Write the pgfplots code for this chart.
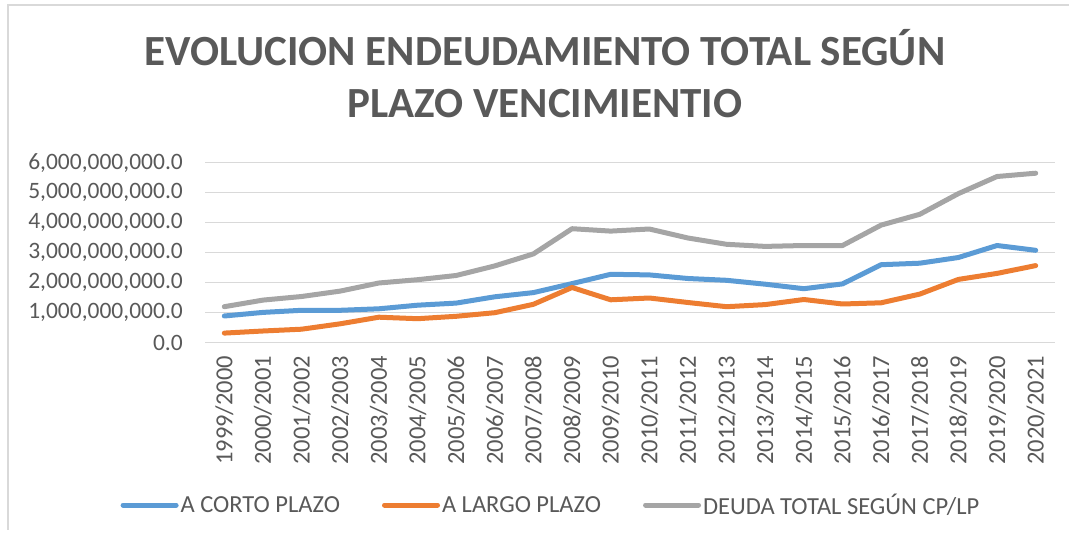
\documentclass[border=0pt]{standalone}
\usepackage{pgfplots}
\pgfplotsset{compat=1.18}
\usepackage{fontspec}
\setmainfont{Carlito}

\definecolor{txt}{HTML}{595959}
\definecolor{gridc}{HTML}{D9D9D9}
\definecolor{cblue}{HTML}{5B9BD5}
\definecolor{corange}{HTML}{ED7D31}
\definecolor{cgray}{HTML}{A5A5A5}

\pgfplotstableread{
i  corto       largo       total
0  890000000   320000000   1200000000
1  1010000000  390000000   1420000000
2  1080000000  450000000   1540000000
3  1080000000  630000000   1720000000
4  1130000000  850000000   1990000000
5  1250000000  800000000   2100000000
6  1320000000  880000000   2240000000
7  1530000000  1000000000  2560000000
8  1670000000  1280000000  2960000000
9  1970000000  1840000000  3800000000
10 2280000000  1430000000  3720000000
11 2260000000  1490000000  3790000000
12 2140000000  1340000000  3490000000
13 2080000000  1200000000  3280000000
14 1950000000  1270000000  3210000000
15 1800000000  1440000000  3240000000
16 1960000000  1290000000  3240000000
17 2600000000  1330000000  3920000000
18 2650000000  1620000000  4280000000
19 2840000000  2110000000  4970000000
20 3240000000  2310000000  5540000000
21 3080000000  2570000000  5650000000
}\datatable

\begin{document}
\begin{tikzpicture}[x=1pt,y=1pt]
\path[use as bounding box] (0,0) rectangle (1069,538);
\draw[gridc, line width=1.5pt] (8,8) -- (8,533) -- (1069,533);

\node[anchor=base, text=txt, font=\fontsize{43}{50}\selectfont\bfseries] at (545,472) {EVOLUCION ENDEUDAMIENTO TOTAL SEGÚN};
\node[anchor=base, text=txt, font=\fontsize{43}{50}\selectfont\bfseries] at (545,420) {PLAZO VENCIMIENTIO};

\begin{axis}[
    at={(205pt,195.3pt)}, anchor=south west,
    scale only axis,
    width=850pt, height=180pt,
    xmin=-0.5, xmax=21.5,
    ymin=0, ymax=6000000000,
    xtick={0,...,21},
    xticklabels={1999/2000,2000/2001,2001/2002,2002/2003,2003/2004,2004/2005,2005/2006,2006/2007,2007/2008,2008/2009,2009/2010,2010/2011,2011/2012,2012/2013,2013/2014,2014/2015,2015/2016,2016/2017,2017/2018,2018/2019,2019/2020,2020/2021},
    ytick={0,1000000000,2000000000,3000000000,4000000000,5000000000,6000000000},
    yticklabels={{0.0},{1,000,000,000.0},{2,000,000,000.0},{3,000,000,000.0},{4,000,000,000.0},{5,000,000,000.0},{6,000,000,000.0}},
    scaled y ticks=false,
    ymajorgrids,
    grid style={gridc, line width=1.5pt},
    axis line style={draw=none},
    major tick length=0pt,
    tick label style={text=txt, font=\fontsize{23.5}{27}\selectfont},
    yticklabel style={anchor=east, inner sep=0pt, xshift=-22pt},
    xticklabel style={rotate=90, anchor=east, inner sep=0pt, xshift=-13pt,
        font=\fontsize{24.5}{28}\selectfont},
    legend columns=3,
    legend style={draw=none, fill=none, at={(346pt,-162.3pt)}, anchor=center,
        font=\fontsize{24.5}{28}\selectfont, text=txt,
        /tikz/every even column/.append style={column sep=40pt},
        inner sep=0pt},
    legend image code/.code={\draw[#1, line width=5pt, line cap=round] (0pt,0pt) -- (53pt,0pt);},
    legend cell align=left,
]
\addplot[cblue, line width=5pt, line cap=round, line join=round] table[x=i, y=corto] {\datatable};
\addlegendentry{A CORTO PLAZO}
\addplot[corange, line width=5pt, line cap=round, line join=round] table[x=i, y=largo] {\datatable};
\addlegendentry{A LARGO PLAZO}
\addplot[cgray, line width=5pt, line cap=round, line join=round] table[x=i, y=total] {\datatable};
\addlegendentry{DEUDA TOTAL SEGÚN CP/LP}
\end{axis}
\end{tikzpicture}
\end{document}
